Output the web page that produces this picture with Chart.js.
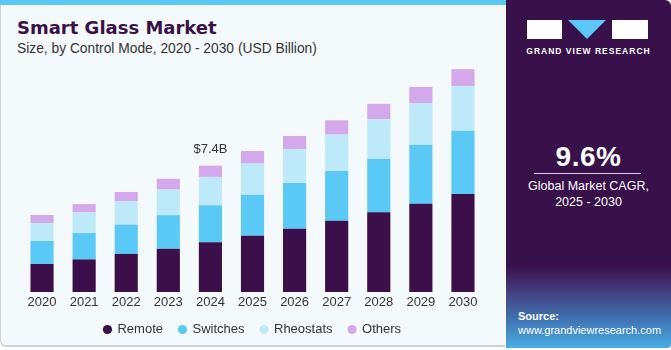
<!DOCTYPE html>
<html>
<head>
<meta charset="utf-8">
<script src="https://cdn.jsdelivr.net/npm/chart.js@4.4.1/dist/chart.umd.min.js"></script>
<style>
  body { margin: 0; width: 671px; height: 350px; overflow: hidden; background: #fff; font-family: "Liberation Sans", Arial, sans-serif; }
  #left { position: absolute; left: 0; top: 0; width: 505px; height: 347px; background: #f4f9fc; border-left: 1px solid #cfd3d6; border-bottom: 2px solid #cfd3d6; border-bottom-left-radius: 6px; box-sizing: border-box; }
  #strip { position: absolute; left: 0; top: 0; width: 506px; height: 5px; background: #5bc8f5; }
  #title { position: absolute; left: 17px; top: 17px; font-family: "DejaVu Sans", sans-serif; font-size: 18px; font-weight: bold; color: #3a1048; }
  #sub { position: absolute; left: 17px; top: 41px; font-size: 13.8px; color: #333; }
  #wrap { position: absolute; left: 0; top: 44px; width: 500px; height: 310px; }
  #right { position: absolute; left: 506px; top: 0; width: 165px; height: 348px; border-top-right-radius: 6px; border-bottom-right-radius: 4px;
           background: linear-gradient(to bottom, #38104a 0px, #38104a 265px, #453c7c 290px, #3f74b3 320px, #4aaee3 348px); color: #fff; }
  .blk { position: absolute; background: #fff; }
  #logotext { position: absolute; left: 0; width: 165px; top: 46px; text-align: center; font-size: 8.5px; font-weight: bold; letter-spacing: 1px; }
  #cagr { position: absolute; left: 0; width: 165px; top: 141px; text-align: center; font-size: 28px; font-weight: bold; letter-spacing: 0.5px; }
  #line { position: absolute; left: 28px; width: 107px; top: 173px; height: 1px; background: #d8d0de; }
  #desc { position: absolute; left: 0; width: 165px; top: 178px; text-align: center; font-size: 12.5px; line-height: 16px; }
  #src { position: absolute; left: 12px; top: 309px; font-size: 11px; line-height: 14px; }
</style>
</head>
<body>
<div id="left"></div>
<div id="strip"></div>
<div id="title">Smart Glass Market</div>
<div id="sub">Size, by Control Mode, 2020 - 2030 (USD Billion)</div>
<div id="wrap"><canvas id="chart"></canvas></div>
<div id="right">
  <div class="blk" style="left:21px;top:20px;width:35px;height:19px;"></div>
  <div style="position:absolute;left:62px;top:20px;width:0;height:0;border-left:19px solid transparent;border-right:19px solid transparent;border-top:19px solid #5bc8f5;"></div>
  <div class="blk" style="left:106px;top:20px;width:36px;height:19px;"></div>
  <div id="logotext">GRAND VIEW RESEARCH</div>
  <div id="cagr">9.6%</div>
  <div id="line"></div>
  <div id="desc">Global Market CAGR,<br>2025 - 2030</div>
  <div id="src"><b>Source:</b><br>www.grandviewresearch.com</div>
</div>
<script>
const years = ['2020', '2021', '2022', '2023', '2024', '2025', '2026', '2027', '2028', '2029', '2030'];
const remote = [1.64, 1.91, 2.23, 2.54, 2.91, 3.30, 3.71, 4.18, 4.67, 5.17, 5.74];
const switches = [1.35, 1.54, 1.72, 1.96, 2.17, 2.40, 2.68, 2.91, 3.14, 3.46, 3.71];
const rheostats = [1.05, 1.21, 1.37, 1.50, 1.66, 1.82, 1.97, 2.13, 2.31, 2.44, 2.62];
const others = [0.47, 0.49, 0.54, 0.63, 0.66, 0.74, 0.78, 0.84, 0.90, 0.94, 0.98];
const calloutIndex = 4;
const calloutText = '$7.4B';

const fontFamily = '"Liberation Sans", Arial, sans-serif';

// draws the value label above the 2024 bar
const callout = {
    id: 'callout',
    afterDatasetsDraw(chart) {
        const meta = chart.getDatasetMeta(chart.data.datasets.length - 1);
        const bar = meta.data[calloutIndex];
        const ctx = chart.ctx;
        ctx.save();
        ctx.font = '13px ' + fontFamily;
        ctx.fillStyle = '#333';
        ctx.textAlign = 'center';
        ctx.textBaseline = 'bottom';
        ctx.fillText(calloutText, bar.x, bar.y - 10);
        ctx.restore();
    }
};

function series(label, data, color) {
    return { label: label, data: data, backgroundColor: color, borderColor: color,
             barPercentage: 0.55, categoryPercentage: 1.0 };
}

new Chart(document.getElementById('chart'), {
    type: 'bar',
    data: {
        labels: years,
        datasets: [
            series('Remote', remote, '#3a0f4a'),
            series('Switches', switches, '#5bc9f6'),
            series('Rheostats', rheostats, '#bee9f9'),
            series('Others', others, '#d4a9ec')
        ]
    },
    options: {
        responsive: true,
        maintainAspectRatio: false,
        animation: false,
        layout: { padding: { left: 21, right: 16, top: 9, bottom: 8 } },
        scales: {
            x: {
                stacked: true,
                grid: { display: false, drawTicks: false },
                border: { display: false },
                ticks: { color: '#333', font: { family: fontFamily, size: 13, lineHeight: 0.4 }, padding: 7.4 },
                afterFit: (scale) => { scale.height -= 5; }
            },
            y: {
                stacked: true,
                display: false,
                min: 0,
                max: 14
            }
        },
        plugins: {
            legend: {
                position: 'bottom',
                labels: { usePointStyle: true, pointStyle: 'circle', boxWidth: 7, boxHeight: 6.5,
                          color: '#333', font: { family: fontFamily, size: 13, lineHeight: 0.6 }, padding: 16 }
            },
            tooltip: { enabled: false }
        }
    },
    plugins: [callout]
});
</script>
</body>
</html>
